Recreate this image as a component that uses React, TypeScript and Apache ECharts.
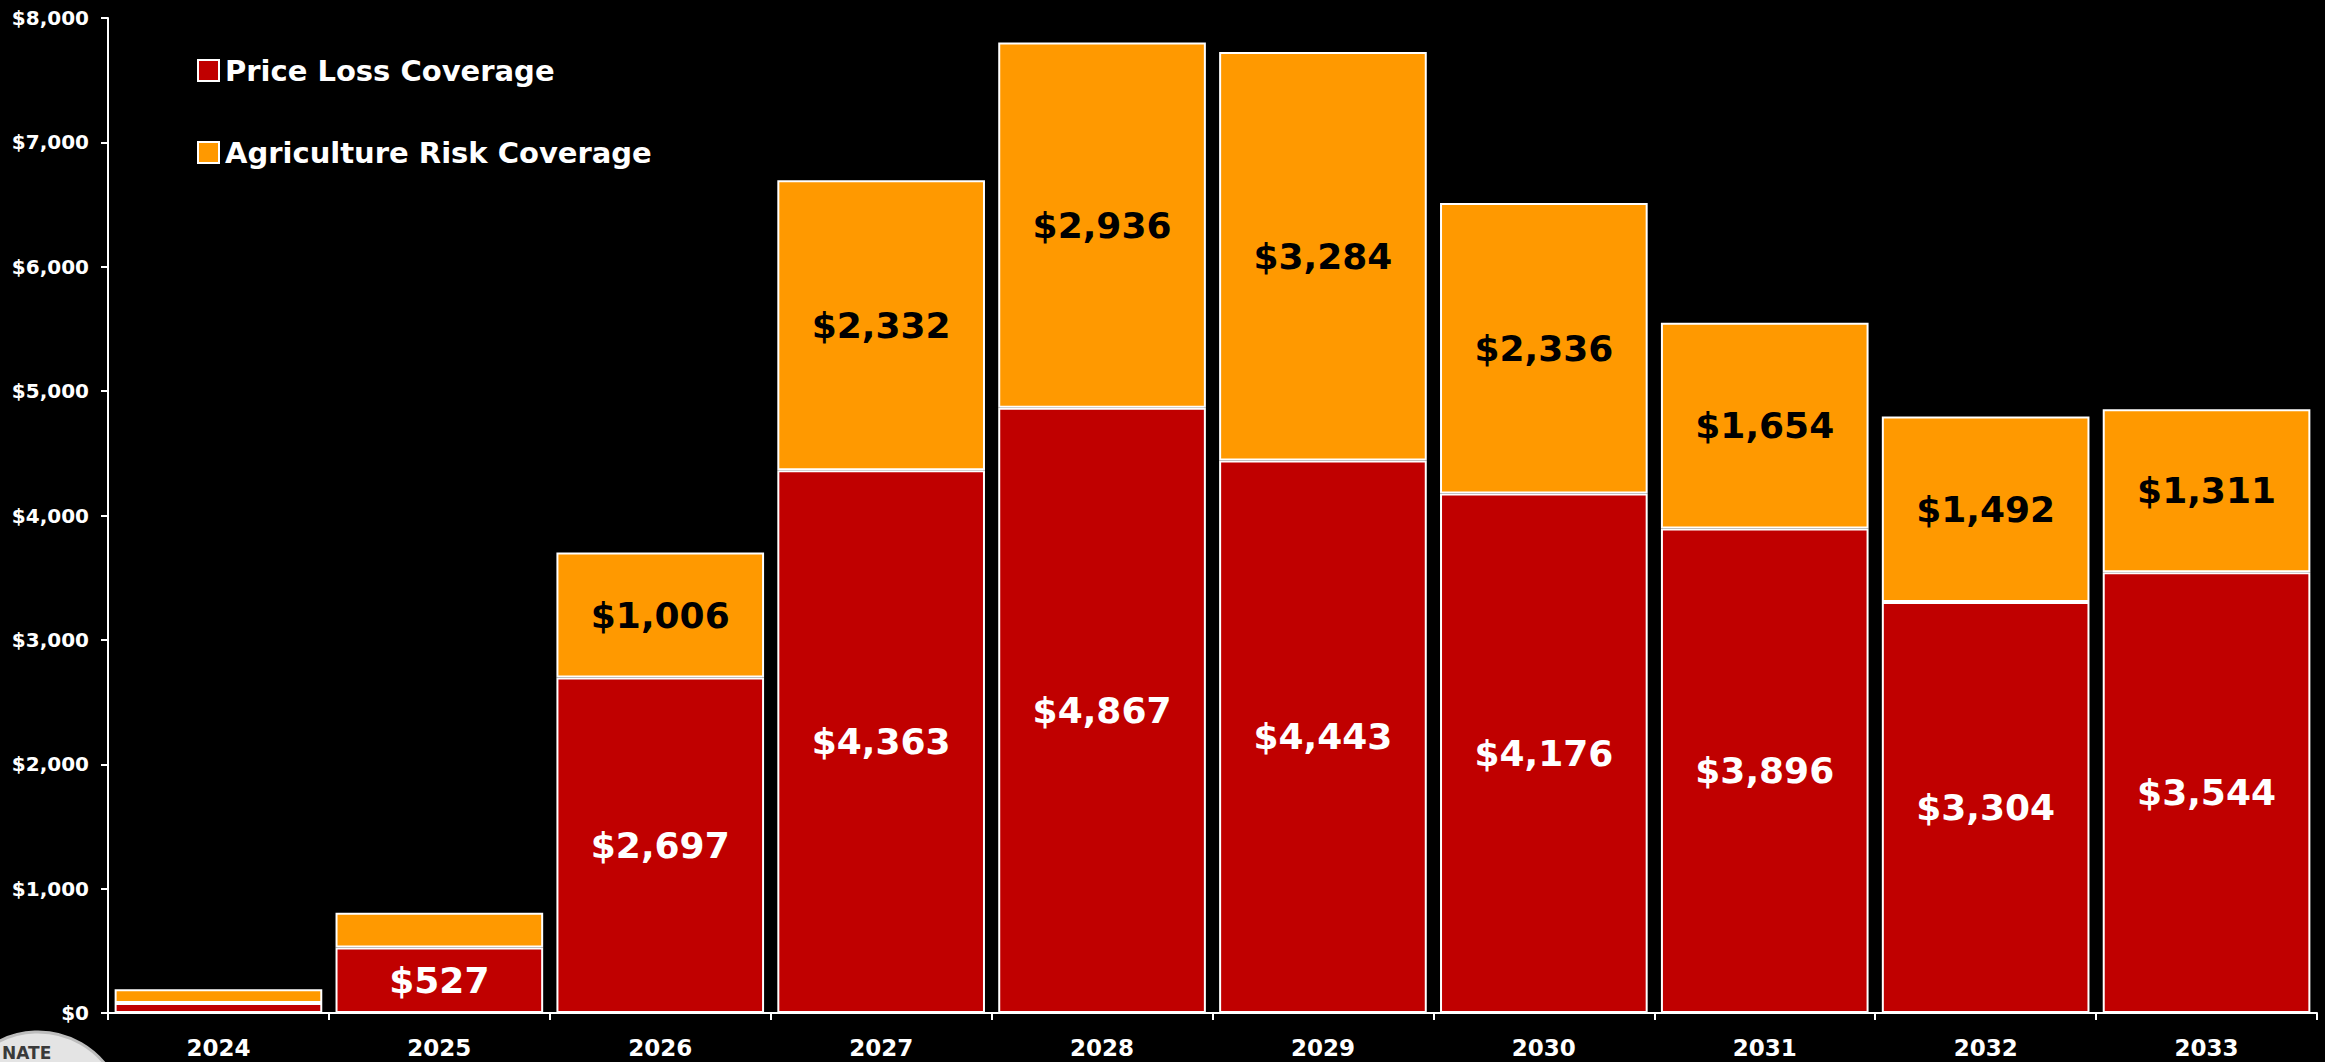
import React, { useEffect, useRef } from "react";
import * as echarts from "echarts";

const years = ["2024", "2025", "2026", "2027", "2028", "2029", "2030", "2031", "2032", "2033"];
const priceLossCoverage = [80, 527, 2697, 4363, 4867, 4443, 4176, 3896, 3304, 3544];
const agricultureRiskCoverage = [110, 280, 1006, 2332, 2936, 3284, 2336, 1654, 1492, 1311];
const yTicks = [0, 1000, 2000, 3000, 4000, 5000, 6000, 7000, 8000];

const fmt = (v: number) => "$" + v.toLocaleString("en-US");
const FONT = "'DejaVu Sans', sans-serif";

export default function App() {
  const ref = useRef<HTMLDivElement>(null);
  useEffect(() => {
    if (!ref.current) return;
    const chart = echarts.init(ref.current, null, { renderer: "svg" });
    chart.setOption({
      animation: false,
      backgroundColor: "#000000",
      textStyle: { fontFamily: FONT },
      grid: { left: 108, right: 8, top: 18, bottom: 49, containLabel: false },
      legend: {
        orient: "vertical",
        left: 192,
        top: 51,
        icon: "rect",
        itemWidth: 21,
        itemHeight: 21,
        itemGap: 53,
        textStyle: { color: "#ffffff", fontSize: 29, fontWeight: "bold", fontFamily: FONT, lineHeight: 29, padding: [0, 0, 0, 1] },
        data: ["Price Loss Coverage", "Agriculture Risk Coverage"],
      },
      xAxis: {
        type: "category",
        data: years,
        axisLine: { lineStyle: { color: "#ffffff", width: 2 } },
        axisTick: { show: true, length: 7, lineStyle: { color: "#ffffff", width: 2 } },
        axisLabel: { color: "#ffffff", fontSize: 23, fontWeight: "bold", fontFamily: FONT, margin: 23 },
      },
      yAxis: {
        type: "value",
        min: 0,
        max: yTicks[yTicks.length - 1],
        interval: 1000,
        splitLine: { show: false },
        axisLine: { show: true, lineStyle: { color: "#ffffff", width: 2 } },
        axisTick: { show: true, length: 7, lineStyle: { color: "#ffffff", width: 2 } },
        axisLabel: { color: "#ffffff", fontSize: 20, fontWeight: "bold", fontFamily: FONT, margin: 19, formatter: (v: number) => fmt(v) },
      },
      series: [
        {
          name: "Price Loss Coverage",
          type: "bar",
          stack: "total",
          barCategoryGap: "6%",
          data: priceLossCoverage,
          itemStyle: { color: "#C00000", borderColor: "#ffffff", borderWidth: 2 },
          label: {
            show: true,
            position: "inside",
            color: "#ffffff",
            fontSize: 36,
            fontWeight: "bold",
            fontFamily: FONT,
            formatter: (p: any) => (p.value >= 400 ? fmt(p.value) : ""),
          },
        },
        {
          name: "Agriculture Risk Coverage",
          type: "bar",
          stack: "total",
          barCategoryGap: "6%",
          data: agricultureRiskCoverage,
          itemStyle: { color: "#FF9900", borderColor: "#ffffff", borderWidth: 2 },
          label: {
            show: true,
            position: "inside",
            color: "#000000",
            fontSize: 36,
            fontWeight: "bold",
            fontFamily: FONT,
            formatter: (p: any) => (p.value >= 400 ? fmt(p.value) : ""),
          },
        },
      ],
      graphic: [
        {
          type: "circle",
          shape: { cx: 38, cy: 1118, r: 86 },
          style: { fill: "#e4e4e4", stroke: "#bdbdbd", lineWidth: 3 },
          silent: true,
        },
        {
          type: "text",
          x: 2,
          y: 1044,
          style: { text: "NATE", fill: "#3a3a3a", font: "bold 17px 'DejaVu Sans', sans-serif" },
          silent: true,
        },
      ],
    });
    return () => chart.dispose();
  }, []);
  return <div ref={ref} style={{ width: 2325, height: 1062, position: "absolute", left: 0, top: 0 }} />;
}
